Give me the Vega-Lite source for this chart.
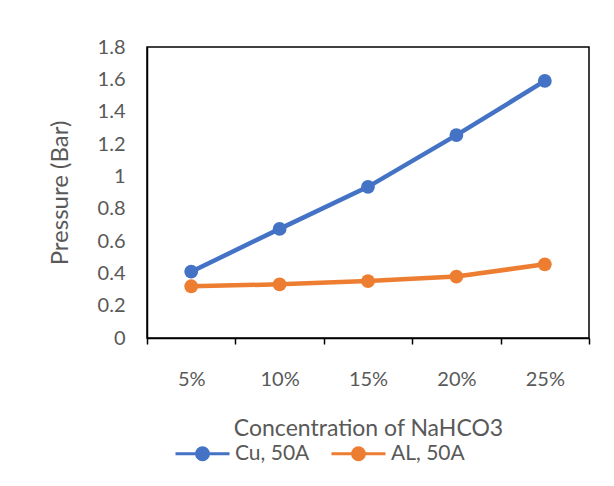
{
  "$schema": "https://vega.github.io/schema/vega-lite/v6.json",
  "autosize": "none",
  "width": 442,
  "height": 291,
  "padding": {"left": 147, "top": 47, "right": 25, "bottom": 148},
  "background": "white",
  "config": {
    "font": "Lato",
    "view": {"stroke": "black", "strokeWidth": 1.5}
  },
  "data": {
    "values": [
      {"conc": "5%", "series": "Cu, 50A", "pressure": 0.41},
      {"conc": "10%", "series": "Cu, 50A", "pressure": 0.675},
      {"conc": "15%", "series": "Cu, 50A", "pressure": 0.935},
      {"conc": "20%", "series": "Cu, 50A", "pressure": 1.255},
      {"conc": "25%", "series": "Cu, 50A", "pressure": 1.59},
      {"conc": "5%", "series": "AL, 50A", "pressure": 0.32},
      {"conc": "10%", "series": "AL, 50A", "pressure": 0.332},
      {"conc": "15%", "series": "AL, 50A", "pressure": 0.352},
      {"conc": "20%", "series": "AL, 50A", "pressure": 0.38},
      {"conc": "25%", "series": "AL, 50A", "pressure": 0.456}
    ]
  },
  "encoding": {
    "x": {
      "field": "conc",
      "type": "ordinal",
      "sort": null,
      "bandPosition": 0.5,
      "scale": {"type": "band", "paddingInner": 0, "paddingOuter": 0},
      "axis": {
        "title": "Concentration of NaHCO3",
        "labelAngle": 0,
        "tickBand": "extent",
        "domainColor": "black",
        "domainWidth": 1.5,
        "tickColor": "black",
        "tickWidth": 1.5,
        "tickSize": 6,
        "labelFontSize": 20,
        "labelColor": "#595959",
        "labelPadding": 25,
        "titleFontSize": 23,
        "titleFontWeight": "normal",
        "titleColor": "#595959",
        "titlePadding": 28
      }
    },
    "y": {
      "field": "pressure",
      "type": "quantitative",
      "scale": {"domain": [0, 1.8], "nice": false},
      "axis": {
        "title": "Pressure (Bar)",
        "values": [0, 0.2, 0.4, 0.6, 0.8, 1, 1.2, 1.4, 1.6, 1.8],
        "format": ".1~f",
        "grid": false,
        "ticks": false,
        "domainColor": "black",
        "domainWidth": 1.5,
        "labelFontSize": 20,
        "labelColor": "#595959",
        "labelPadding": 22,
        "titleFontSize": 24,
        "titleFontWeight": "normal",
        "titleColor": "#595959",
        "titlePadding": 25
      }
    },
    "color": {
      "field": "series",
      "type": "nominal",
      "sort": null,
      "scale": {"domain": ["Cu, 50A", "AL, 50A"], "range": ["#4472C4", "#ED7D31"]},
      "legend": {
        "title": null,
        "orient": "none",
        "direction": "horizontal",
        "legendX": 27,
        "legendY": 378,
        "symbolType": "M-1,0L1,0M0.22,0A0.22,0.22,0,1,1,-0.22,0A0.22,0.22,0,1,1,0.22,0Z",
        "symbolSize": 2916,
        "symbolStrokeWidth": 3,
        "labelFontSize": 21,
        "labelColor": "#595959",
        "labelOffset": 4,
        "columnPadding": 15,
        "encode": {
          "symbols": {
            "update": {
              "fill": {"scale": "color", "field": "value"},
              "stroke": {"scale": "color", "field": "value"},
              "opacity": {"value": 1}
            }
          }
        }
      }
    }
  },
  "layer": [
    {"mark": {"type": "line", "strokeWidth": 4.5}},
    {"mark": {"type": "point", "filled": true, "size": 190, "opacity": 1}}
  ]
}
